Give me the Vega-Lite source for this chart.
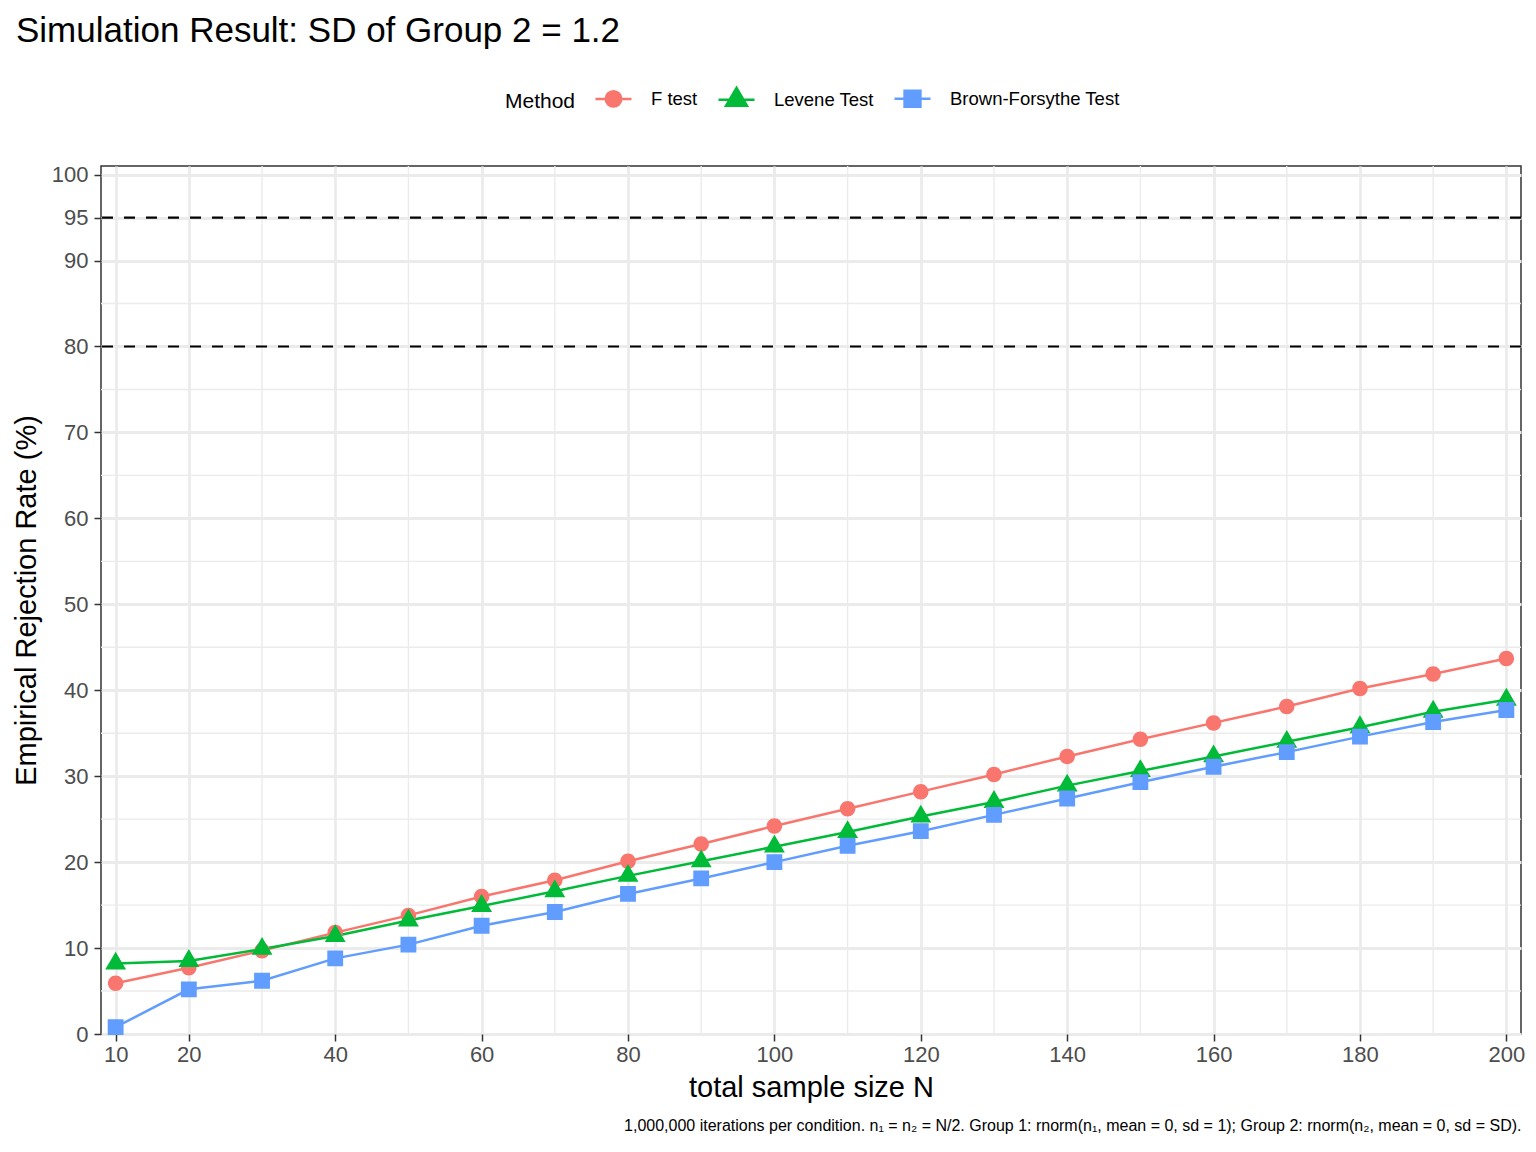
{
  "$schema": "https://vega.github.io/schema/vega-lite/v6.json",
  "description": "Empirical rejection rate by total sample size, SD of group 2 = 1.2",
  "width": 1420,
  "height": 868,
  "autosize": {"type": "none"},
  "padding": {"left": 101, "top": 166, "right": 15, "bottom": 118},
  "background": "white",
  "title": {
    "text": "Simulation Result: SD of Group 2 = 1.2",
    "anchor": "start",
    "frame": "group",
    "dx": -85,
    "offset": 30,
    "fontSize": 35,
    "fontWeight": "normal",
    "color": "black"
  },
  "config": {
    "font": "Liberation Sans",
    "view": {"stroke": "#333333", "strokeWidth": 1.5},
    "axis": {
      "domain": false,
      "gridColor": "#EBEBEB",
      "gridWidth": 2.8,
      "tickColor": "#333333",
      "tickSize": 7,
      "tickWidth": 1.5,
      "labelFontSize": 22,
      "labelColor": "#4D4D4D",
      "labelFlush": false,
      "titleFontSize": 29,
      "titleFontWeight": "normal",
      "titleColor": "black"
    },
    "legend": {
      "titleFontSize": 21,
      "titleFontWeight": "normal",
      "titleColor": "black",
      "labelFontSize": 18.5,
      "labelColor": "black",
      "labelLimit": 400
    }
  },
  "datasets": {
    "sim": [
      {"N": 10, "Method": "F test", "Rate": 5.9},
      {"N": 20, "Method": "F test", "Rate": 7.7},
      {"N": 30, "Method": "F test", "Rate": 9.7},
      {"N": 40, "Method": "F test", "Rate": 11.8},
      {"N": 50, "Method": "F test", "Rate": 13.8},
      {"N": 60, "Method": "F test", "Rate": 16.0},
      {"N": 70, "Method": "F test", "Rate": 17.9},
      {"N": 80, "Method": "F test", "Rate": 20.1},
      {"N": 90, "Method": "F test", "Rate": 22.1},
      {"N": 100, "Method": "F test", "Rate": 24.2},
      {"N": 110, "Method": "F test", "Rate": 26.2},
      {"N": 120, "Method": "F test", "Rate": 28.2},
      {"N": 130, "Method": "F test", "Rate": 30.2},
      {"N": 140, "Method": "F test", "Rate": 32.3},
      {"N": 150, "Method": "F test", "Rate": 34.3},
      {"N": 160, "Method": "F test", "Rate": 36.2},
      {"N": 170, "Method": "F test", "Rate": 38.1},
      {"N": 180, "Method": "F test", "Rate": 40.2},
      {"N": 190, "Method": "F test", "Rate": 41.9},
      {"N": 200, "Method": "F test", "Rate": 43.7},
      {"N": 10, "Method": "Levene Test", "Rate": 8.2},
      {"N": 20, "Method": "Levene Test", "Rate": 8.5},
      {"N": 30, "Method": "Levene Test", "Rate": 9.9},
      {"N": 40, "Method": "Levene Test", "Rate": 11.4},
      {"N": 50, "Method": "Levene Test", "Rate": 13.2},
      {"N": 60, "Method": "Levene Test", "Rate": 14.9},
      {"N": 70, "Method": "Levene Test", "Rate": 16.6},
      {"N": 80, "Method": "Levene Test", "Rate": 18.4},
      {"N": 90, "Method": "Levene Test", "Rate": 20.1},
      {"N": 100, "Method": "Levene Test", "Rate": 21.8},
      {"N": 110, "Method": "Levene Test", "Rate": 23.5},
      {"N": 120, "Method": "Levene Test", "Rate": 25.3},
      {"N": 130, "Method": "Levene Test", "Rate": 27.0},
      {"N": 140, "Method": "Levene Test", "Rate": 28.9},
      {"N": 150, "Method": "Levene Test", "Rate": 30.6},
      {"N": 160, "Method": "Levene Test", "Rate": 32.3},
      {"N": 170, "Method": "Levene Test", "Rate": 34.0},
      {"N": 180, "Method": "Levene Test", "Rate": 35.7},
      {"N": 190, "Method": "Levene Test", "Rate": 37.5},
      {"N": 200, "Method": "Levene Test", "Rate": 38.9},
      {"N": 10, "Method": "Brown-Forsythe Test", "Rate": 0.8},
      {"N": 20, "Method": "Brown-Forsythe Test", "Rate": 5.2},
      {"N": 30, "Method": "Brown-Forsythe Test", "Rate": 6.2},
      {"N": 40, "Method": "Brown-Forsythe Test", "Rate": 8.8},
      {"N": 50, "Method": "Brown-Forsythe Test", "Rate": 10.4},
      {"N": 60, "Method": "Brown-Forsythe Test", "Rate": 12.6},
      {"N": 70, "Method": "Brown-Forsythe Test", "Rate": 14.2},
      {"N": 80, "Method": "Brown-Forsythe Test", "Rate": 16.3},
      {"N": 90, "Method": "Brown-Forsythe Test", "Rate": 18.1},
      {"N": 100, "Method": "Brown-Forsythe Test", "Rate": 20.0},
      {"N": 110, "Method": "Brown-Forsythe Test", "Rate": 21.9},
      {"N": 120, "Method": "Brown-Forsythe Test", "Rate": 23.6},
      {"N": 130, "Method": "Brown-Forsythe Test", "Rate": 25.5},
      {"N": 140, "Method": "Brown-Forsythe Test", "Rate": 27.4},
      {"N": 150, "Method": "Brown-Forsythe Test", "Rate": 29.3},
      {"N": 160, "Method": "Brown-Forsythe Test", "Rate": 31.1},
      {"N": 170, "Method": "Brown-Forsythe Test", "Rate": 32.8},
      {"N": 180, "Method": "Brown-Forsythe Test", "Rate": 34.6},
      {"N": 190, "Method": "Brown-Forsythe Test", "Rate": 36.3},
      {"N": 200, "Method": "Brown-Forsythe Test", "Rate": 37.7}
    ]
  },
  "layer": [
    {
      "data": {"values": [{"N": 30}, {"N": 50}, {"N": 70}, {"N": 90}, {"N": 110}, {"N": 130}, {"N": 150}, {"N": 170}, {"N": 190}]},
      "mark": {"type": "rule", "color": "#EBEBEB", "strokeWidth": 1.4},
      "encoding": {
        "x": {
          "field": "N",
          "type": "quantitative",
          "scale": {"domain": [8, 202], "nice": false, "zero": false},
          "axis": {
            "orient": "bottom",
            "title": "1,000,000 iterations per condition. n₁ = n₂ = N/2. Group 1: rnorm(n₁, mean = 0, sd = 1); Group 2: rnorm(n₂, mean = 0, sd = SD).",
            "labels": false,
            "ticks": false,
            "grid": false,
            "titleAnchor": "end",
            "titleFontSize": 16,
            "titlePadding": 83
          }
        }
      }
    },
    {
      "data": {"values": [{"Rate": 5}, {"Rate": 15}, {"Rate": 25}, {"Rate": 35}, {"Rate": 45}, {"Rate": 55}, {"Rate": 65}, {"Rate": 75}, {"Rate": 85}]},
      "mark": {"type": "rule", "color": "#EBEBEB", "strokeWidth": 1.4},
      "encoding": {
        "y": {
          "field": "Rate",
          "type": "quantitative",
          "scale": {"domain": [0, 101], "nice": false, "zero": false},
          "axis": {"title": "Empirical Rejection Rate (%)", "values": [0, 10, 20, 30, 40, 50, 60, 70, 80, 90, 95, 100], "grid": true, "labelPadding": 6, "titlePadding": 10}
        }
      }
    },
    {
      "data": {"values": [{"Rate": 80}, {"Rate": 95}]},
      "mark": {"type": "rule", "color": "black", "strokeWidth": 2.2, "strokeDash": [11, 11]},
      "encoding": {
        "y": {
          "field": "Rate",
          "type": "quantitative",
          "scale": {"domain": [0, 101], "nice": false, "zero": false},
          "axis": {"title": "Empirical Rejection Rate (%)", "values": [0, 10, 20, 30, 40, 50, 60, 70, 80, 90, 95, 100], "grid": true, "labelPadding": 6, "titlePadding": 10}
        }
      }
    },
    {
      "data": {"name": "sim"},
      "mark": {"type": "line", "strokeWidth": 2.5},
      "encoding": {
        "x": {
          "field": "N",
          "type": "quantitative",
          "scale": {"domain": [8, 202], "nice": false, "zero": false},
          "axis": {
            "orient": "bottom",
            "title": "total sample size N",
            "values": [10, 20, 40, 60, 80, 100, 120, 140, 160, 180, 200],
            "grid": true,
            "labelPadding": 3,
            "titlePadding": 8
          }
        },
        "y": {
          "field": "Rate",
          "type": "quantitative",
          "scale": {"domain": [0, 101], "nice": false, "zero": false},
          "axis": {"title": "Empirical Rejection Rate (%)", "values": [0, 10, 20, 30, 40, 50, 60, 70, 80, 90, 95, 100], "grid": true, "labelPadding": 6, "titlePadding": 10}
        },
        "stroke": {
          "field": "Method",
          "type": "nominal",
          "scale": {"domain": ["Brown-Forsythe Test", "Levene Test", "F test"], "range": ["#619CFF", "#00BA38", "#F8766D"]},
          "legend": null
        }
      }
    },
    {
      "data": {"name": "sim"},
      "mark": {"type": "point", "filled": true, "opacity": 1, "size": 1296},
      "encoding": {
        "x": {"field": "N", "type": "quantitative", "scale": {"domain": [8, 202], "nice": false, "zero": false}, "axis": null},
        "y": {
          "field": "Rate",
          "type": "quantitative",
          "scale": {"domain": [0, 101], "nice": false, "zero": false},
          "axis": {"title": "Empirical Rejection Rate (%)", "values": [0, 10, 20, 30, 40, 50, 60, 70, 80, 90, 95, 100], "grid": true, "labelPadding": 6, "titlePadding": 10}
        },
        "color": {
          "field": "Method",
          "type": "nominal",
          "scale": {"domain": ["F test", "Levene Test", "Brown-Forsythe Test"], "range": ["#F8766D", "#00BA38", "#619CFF"]},
          "legend": {
            "title": "Method",
            "orient": "none",
            "legendX": 404,
            "legendY": -87,
            "direction": "horizontal",
            "titleOrient": "left",
            "titleAnchor": "end",
            "titleBaseline": "bottom",
            "titlePadding": 18,
            "labelOffset": 18,
            "columnPadding": 15,
            "symbolSize": 1296,
            "symbolStrokeColor": {"expr": "scale('color', datum.value)"},
            "symbolStrokeWidth": 2.5,
            "padding": 0
          }
        },
        "shape": {
          "field": "Method",
          "type": "nominal",
          "scale": {
            "domain": ["F test", "Levene Test", "Brown-Forsythe Test"],
            "range": [
              "M-1,0H1M0.43,0A0.43,0.43,0,1,1,-0.43,0A0.43,0.43,0,1,1,0.43,0Z",
              "M-1,0H1M0,-0.66L0.58,0.33L-0.58,0.33Z",
              "M-1,0H1M-0.44,-0.44H0.44V0.44H-0.44Z"
            ]
          },
          "legend": {
            "title": "Method",
            "orient": "none",
            "legendX": 404,
            "legendY": -87,
            "direction": "horizontal",
            "titleOrient": "left",
            "titleAnchor": "end",
            "titleBaseline": "bottom",
            "titlePadding": 18,
            "labelOffset": 18,
            "columnPadding": 15,
            "symbolSize": 1296,
            "symbolStrokeColor": {"expr": "scale('color', datum.value)"},
            "symbolStrokeWidth": 2.5,
            "padding": 0
          }
        }
      }
    }
  ],
  "resolve": {"axis": {"x": "independent"}}
}
